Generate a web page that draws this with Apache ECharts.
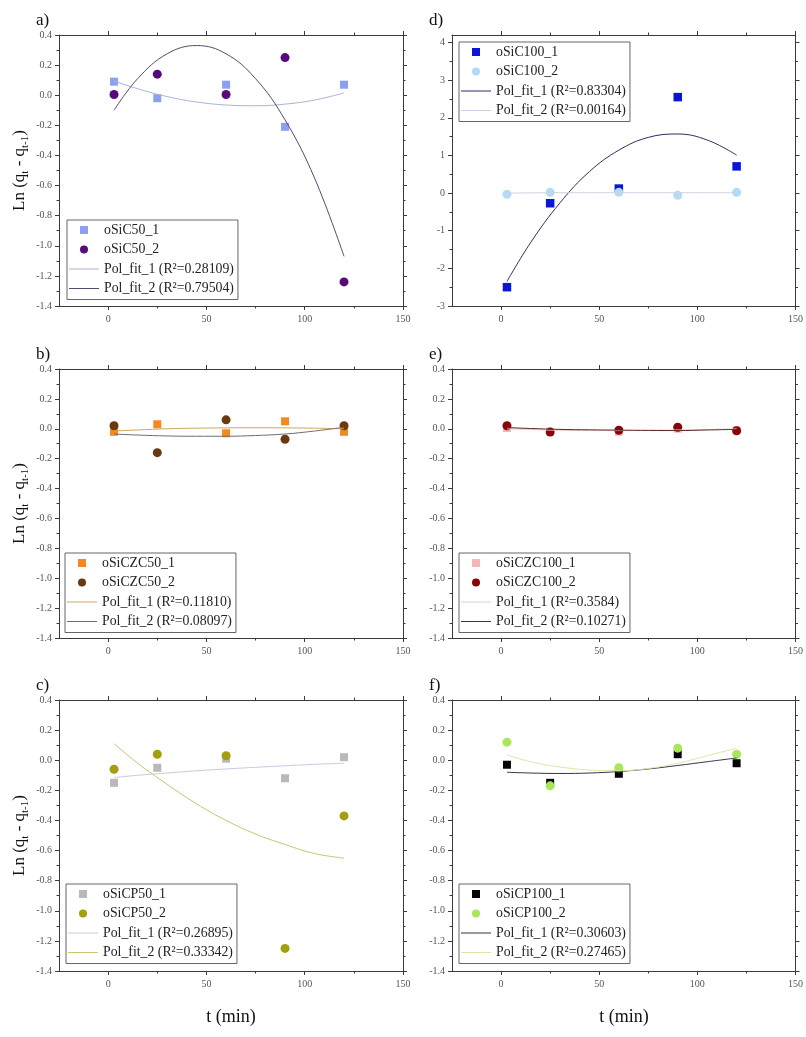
<!DOCTYPE html>
<html>
<head>
<meta charset="utf-8">
<script src="https://cdn.jsdelivr.net/npm/echarts@6/dist/echarts.min.js"></script>
<style>
  html, body { margin: 0; padding: 0; background: #ffffff; }
  #chart { width: 806px; height: 1037px; }
</style>
</head>
<body>
<div id="chart"></div>
<script>
// Sampling times (min)
const tMin = [3, 25, 60, 90, 120];
// Times at which the fitted polynomial curves are drawn
const fitT = [3, 15, 30, 45, 60, 75, 90, 105, 120];

// Tick positions
const xTickMajor = [0, 50, 100, 150];
const xTickMinor = [25, 75, 125];
const yTickMajorS = [-1.4, -1.2, -1.0, -0.8, -0.6, -0.4, -0.2, 0.0, 0.2, 0.4];
const yTickMinorS = [-1.3, -1.1, -0.9, -0.7, -0.5, -0.3, -0.1, 0.1, 0.3];
const yTickMajorL = [-3, -2, -1, 0, 1, 2, 3, 4];
const yTickMinorL = [-2.5, -1.5, -0.5, 0.5, 1.5, 2.5, 3.5];

// a) oSiC50
const oSiC50_1 = [0.09, -0.02, 0.07, -0.21, 0.07];
const oSiC50_2 = [0.005, 0.14, 0.005, 0.25, -1.24];
const oSiC50_fit1 = [0.095, 0.043, -0.009, -0.045, -0.065, -0.07, -0.059, -0.032, 0.015];
const oSiC50_fit2 = [-0.10, 0.11, 0.275, 0.33, 0.275, 0.11, -0.164, -0.55, -1.07];

// b) oSiCZC50
const oSiCZC50_1 = [-0.02, 0.03, -0.03, 0.05, -0.02];
const oSiCZC50_2 = [0.02, -0.16, 0.06, -0.07, 0.02];
const oSiCZC50_fit1 = [-0.015, -0.008, 0.0, 0.004, 0.006, 0.007, 0.006, 0.004, 0.0];
const oSiCZC50_fit2 = [-0.035, -0.042, -0.048, -0.05, -0.05, -0.045, -0.035, -0.015, 0.01];

// c) oSiCP50
const oSiCP50_1 = [-0.15, -0.05, 0.01, -0.12, 0.02];
const oSiCP50_2 = [-0.06, 0.04, 0.03, -1.25, -0.37];
const oSiCP50_fit1 = [-0.115, -0.10, -0.085, -0.07, -0.058, -0.047, -0.037, -0.027, -0.02];
const oSiCP50_fit2 = [0.11, -0.02, -0.16, -0.29, -0.40, -0.49, -0.56, -0.62, -0.65];

// d) oSiC100
const oSiC100_1 = [-2.50, -0.27, 0.12, 2.55, 0.71];
const oSiC100_2 = [-0.03, 0.02, 0.02, -0.06, 0.02];
const oSiC100_fit1 = [-2.35, -1.32, -0.26, 0.57, 1.14, 1.48, 1.57, 1.41, 1.01];
const oSiC100_fit2 = [0.0, 0.005, 0.01, 0.01, 0.01, 0.01, 0.01, 0.01, 0.01];

// e) oSiCZC100
const oSiCZC100_1 = [0.005, -0.02, -0.02, 0.0, -0.01];
const oSiCZC100_2 = [0.02, -0.022, -0.01, 0.01, -0.013];
const oSiCZC100_fit1 = [0.0, -0.005, -0.01, -0.012, -0.012, -0.01, -0.008, -0.005, 0.0];
const oSiCZC100_fit2 = [0.008, 0.002, -0.004, -0.007, -0.009, -0.011, -0.012, -0.008, -0.004];

// f) oSiCP100
const oSiCP100_1 = [-0.03, -0.15, -0.09, 0.04, -0.02];
const oSiCP100_2 = [0.12, -0.17, -0.05, 0.08, 0.04];
const oSiCP100_fit1 = [-0.08, -0.085, -0.088, -0.085, -0.075, -0.058, -0.035, -0.01, 0.015];
const oSiCP100_fit2 = [0.035, -0.01, -0.045, -0.065, -0.07, -0.055, -0.02, 0.03, 0.08];

const SERIF = "'Liberation Serif', 'DejaVu Serif', serif";
const AXIS_COLOR = '#3a3a3a';
const LINE_ICON = 'path://M0 0H30V1H0Z';
const SQUARE_ICON = 'path://M0 0H10V10H0Z';

const panels = [
  { tag: 'a)', grid: { left: 59, top: 35, width: 344, height: 271 }, legendPos: { left: 67, top: 220 },
    yMin: -1.4, yMax: 0.4, yMajor: yTickMajorS, yMinor: yTickMinorS, yDec: 1, yTitle: true, xTitle: false,
    s1: { name: 'oSiC50_1', data: oSiC50_1, color: '#8c9ff0', symbol: 'rect', size: 8 },
    s2: { name: 'oSiC50_2', data: oSiC50_2, color: '#58097a', symbol: 'circle', size: 9 },
    f1: { name: 'Pol_fit_1 (R²=0.28109)', data: oSiC50_fit1, color: '#aab4d6' },
    f2: { name: 'Pol_fit_2 (R²=0.79504)', data: oSiC50_fit2, color: '#4d4d72' } },
  { tag: 'b)', grid: { left: 59, top: 369, width: 344, height: 269 }, legendPos: { left: 65, top: 553 },
    yMin: -1.4, yMax: 0.4, yMajor: yTickMajorS, yMinor: yTickMinorS, yDec: 1, yTitle: true, xTitle: false,
    s1: { name: 'oSiCZC50_1', data: oSiCZC50_1, color: '#f5891e', symbol: 'rect', size: 8 },
    s2: { name: 'oSiCZC50_2', data: oSiCZC50_2, color: '#6a3812', symbol: 'circle', size: 9 },
    f1: { name: 'Pol_fit_1 (R²=0.11810)', data: oSiCZC50_fit1, color: '#d2a55a' },
    f2: { name: 'Pol_fit_2 (R²=0.08097)', data: oSiCZC50_fit2, color: '#6e6e6e' } },
  { tag: 'c)', grid: { left: 59, top: 700, width: 344, height: 271 }, legendPos: { left: 66, top: 884 },
    yMin: -1.4, yMax: 0.4, yMajor: yTickMajorS, yMinor: yTickMinorS, yDec: 1, yTitle: true, xTitle: true,
    s1: { name: 'oSiCP50_1', data: oSiCP50_1, color: '#b9b9b9', symbol: 'rect', size: 8 },
    s2: { name: 'oSiCP50_2', data: oSiCP50_2, color: '#a59e0e', symbol: 'circle', size: 9 },
    f1: { name: 'Pol_fit_1 (R²=0.26895)', data: oSiCP50_fit1, color: '#c6cce2' },
    f2: { name: 'Pol_fit_2 (R²=0.33342)', data: oSiCP50_fit2, color: '#cbc274' } },
  { tag: 'd)', grid: { left: 452, top: 35, width: 344, height: 271 }, legendPos: { left: 459, top: 42 },
    yMin: -3, yMax: 4.2, yMajor: yTickMajorL, yMinor: yTickMinorL, yDec: 0, yTitle: false, xTitle: false,
    s1: { name: 'oSiC100_1', data: oSiC100_1, color: '#0a16d6', symbol: 'rect', size: 8.5 },
    s2: { name: 'oSiC100_2', data: oSiC100_2, color: '#b2dcf6', symbol: 'circle', size: 9 },
    f1: { name: 'Pol_fit_1 (R²=0.83304)', data: oSiC100_fit1, color: '#2c2c62' },
    f2: { name: 'Pol_fit_2 (R²=0.00164)', data: oSiC100_fit2, color: '#cdd3e2' } },
  { tag: 'e)', grid: { left: 452, top: 369, width: 344, height: 269 }, legendPos: { left: 459, top: 553 },
    yMin: -1.4, yMax: 0.4, yMajor: yTickMajorS, yMinor: yTickMinorS, yDec: 1, yTitle: false, xTitle: false,
    s1: { name: 'oSiCZC100_1', data: oSiCZC100_1, color: '#f5b6b8', symbol: 'rect', size: 8 },
    s2: { name: 'oSiCZC100_2', data: oSiCZC100_2, color: '#8a0309', symbol: 'circle', size: 9 },
    f1: { name: 'Pol_fit_1 (R²=0.3584)', data: oSiCZC100_fit1, color: '#e6caca' },
    f2: { name: 'Pol_fit_2 (R²=0.10271)', data: oSiCZC100_fit2, color: '#5e2626' } },
  { tag: 'f)', grid: { left: 452, top: 700, width: 344, height: 271 }, legendPos: { left: 459, top: 884 },
    yMin: -1.4, yMax: 0.4, yMajor: yTickMajorS, yMinor: yTickMinorS, yDec: 1, yTitle: false, xTitle: true,
    s1: { name: 'oSiCP100_1', data: oSiCP100_1, color: '#060606', symbol: 'rect', size: 8 },
    s2: { name: 'oSiCP100_2', data: oSiCP100_2, color: '#a8e65a', symbol: 'circle', size: 9 },
    f1: { name: 'Pol_fit_1 (R²=0.30603)', data: oSiCP100_fit1, color: '#33334a' },
    f2: { name: 'Pol_fit_2 (R²=0.27465)', data: oSiCP100_fit2, color: '#dbe8aa' } }
];

const grid = [], xAxis = [], yAxis = [], series = [], legend = [], graphic = [];

function axisBase(extra) {
  return Object.assign({
    type: 'value',
    splitLine: { show: false },
    axisLine: { show: false, onZero: false, lineStyle: { color: AXIS_COLOR, width: 1 } },
    axisLabel: { show: false },
    axisPointer: { show: false }
  }, extra);
}

panels.forEach((p, i) => {
  grid.push(Object.assign({ containLabel: false }, p.grid));

  const xRange = { gridIndex: i, min: -25, max: 150 };
  const yRange = { gridIndex: i, min: p.yMin, max: p.yMax };
  const majorTick = (vals) => ({ show: true, customValues: vals, length: 4, lineStyle: { color: AXIS_COLOR } });
  const minorTick = (vals) => ({ show: true, customValues: vals, length: 2.5, lineStyle: { color: AXIS_COLOR } });

  // x axes: bottom (labelled), bottom minor ticks, top mirror, top minor ticks
  xAxis.push(axisBase(Object.assign({}, xRange, {
    position: 'bottom',
    axisLine: { show: true, onZero: false, lineStyle: { color: AXIS_COLOR, width: 1 } },
    axisTick: majorTick(xTickMajor),
    axisLabel: { show: true, customValues: xTickMajor, margin: 8, fontFamily: SERIF, fontSize: 10, color: '#555' }
  })));
  xAxis.push(axisBase(Object.assign({}, xRange, { position: 'bottom', axisTick: minorTick(xTickMinor) })));
  xAxis.push(axisBase(Object.assign({}, xRange, {
    position: 'top',
    axisLine: { show: true, onZero: false, lineStyle: { color: AXIS_COLOR, width: 1 } },
    axisTick: majorTick(xTickMajor)
  })));
  xAxis.push(axisBase(Object.assign({}, xRange, { position: 'top', axisTick: minorTick(xTickMinor) })));

  // y axes: left (labelled), left minor ticks, right mirror, right minor ticks
  yAxis.push(axisBase(Object.assign({}, yRange, {
    position: 'left',
    axisLine: { show: true, onZero: false, lineStyle: { color: AXIS_COLOR, width: 1 } },
    axisTick: majorTick(p.yMajor),
    axisLabel: {
      show: true, customValues: p.yMajor, margin: 7, fontFamily: SERIF, fontSize: 10, color: '#555',
      formatter: (v) => Number(v).toFixed(p.yDec)
    }
  })));
  yAxis.push(axisBase(Object.assign({}, yRange, { position: 'left', axisTick: minorTick(p.yMinor) })));
  yAxis.push(axisBase(Object.assign({}, yRange, {
    position: 'right',
    axisLine: { show: true, onZero: false, lineStyle: { color: AXIS_COLOR, width: 1 } },
    axisTick: majorTick(p.yMajor)
  })));
  yAxis.push(axisBase(Object.assign({}, yRange, { position: 'right', axisTick: minorTick(p.yMinor) })));

  const xi = i * 4, yi = i * 4;
  [p.s1, p.s2].forEach((s) => {
    series.push({
      name: s.name, type: 'scatter', xAxisIndex: xi, yAxisIndex: yi,
      symbol: s.symbol, symbolSize: s.size, z: 2,
      itemStyle: { color: s.color, opacity: 1 },
      data: tMin.map((t, k) => [t, s.data[k]])
    });
  });
  [p.f1, p.f2].forEach((f) => {
    series.push({
      name: f.name, type: 'line', xAxisIndex: xi, yAxisIndex: yi,
      symbol: 'none', smooth: 0.4, z: 3,
      color: f.color,
      lineStyle: { color: f.color, width: 1 },
      data: fitT.map((t, k) => [t, f.data[k]])
    });
  });

  legend.push({
    orient: 'vertical',
    left: p.legendPos.left, top: p.legendPos.top,
    padding: [3, 4, 4, 2],
    itemWidth: 30, itemHeight: 8, itemGap: 5.5,
    borderColor: '#666', borderWidth: 1, backgroundColor: '#ffffff',
    selectedMode: false,
    itemStyle: { borderWidth: 0 },
    textStyle: { fontFamily: SERIF, fontSize: 13.8, color: '#222', lineHeight: 14 },
    data: [
      { name: p.s1.name, icon: SQUARE_ICON }, { name: p.s2.name, icon: 'circle' },
      { name: p.f1.name, icon: LINE_ICON }, { name: p.f2.name, icon: LINE_ICON }
    ]
  });

  // panel tag
  graphic.push({
    type: 'text', left: p.grid.left - 23, top: p.grid.top - 23,
    style: { text: p.tag, fontFamily: SERIF, fontSize: 17, fill: '#111' }
  });

  // y axis title (left column)
  if (p.yTitle) {
    graphic.push({
      type: 'text', x: 20, y: p.grid.top + p.grid.height / 2, rotation: Math.PI / 2,
      style: {
        text: '{n|Ln (q}{s|t}{n| - q}{s|t-1}{n|)}',
        align: 'center', verticalAlign: 'middle',
        rich: {
          n: { fontFamily: SERIF, fontSize: 17, fill: '#111', verticalAlign: 'middle' },
          s: { fontFamily: SERIF, fontSize: 11, fill: '#111', verticalAlign: 'middle', padding: [10, 0, 0, 0] }
        }
      }
    });
  }
  // x axis title (bottom row)
  if (p.xTitle) {
    graphic.push({
      type: 'text', x: p.grid.left + 172, y: 1017,
      style: { text: 't (min)', fontFamily: SERIF, fontSize: 18, fill: '#111', align: 'center', verticalAlign: 'middle' }
    });
  }
});

const chart = echarts.init(document.getElementById('chart'), null, { renderer: 'canvas' });
chart.setOption({
  backgroundColor: '#ffffff',
  animation: false,
  grid, xAxis, yAxis, series, legend, graphic
});
</script>
</body>
</html>
